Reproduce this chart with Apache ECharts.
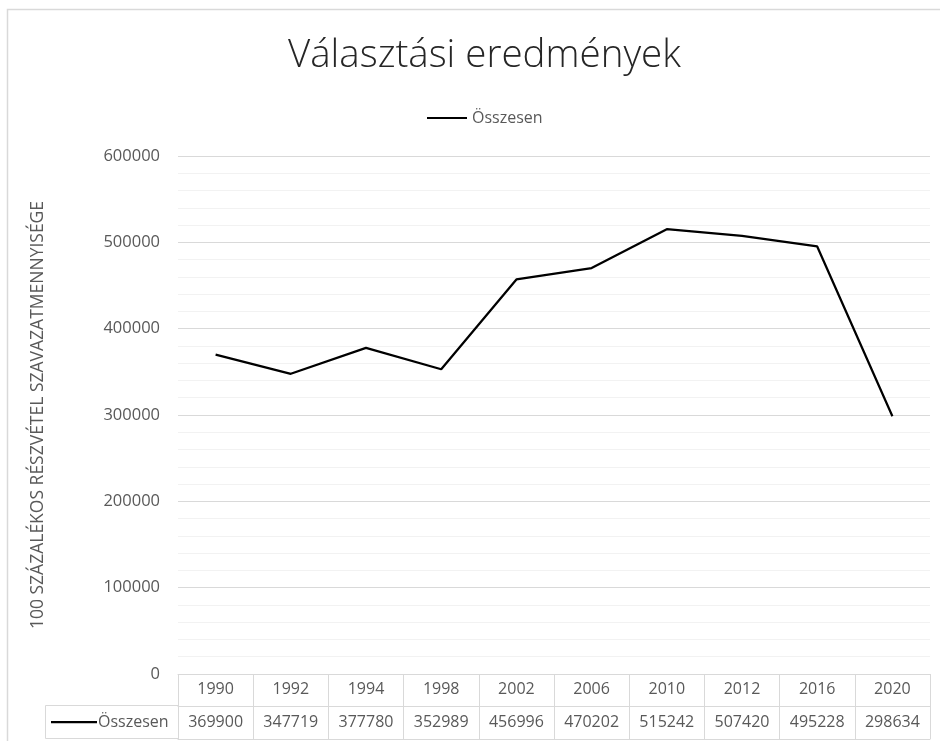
<!DOCTYPE html>
<html>
<head>
<meta charset="utf-8">
<script src="https://cdn.jsdelivr.net/npm/echarts@6/dist/echarts.min.js"></script>
<style>
  html, body { margin: 0; padding: 0; background: #fff; }
  #chart { width: 940px; height: 741px; }
</style>
</head>
<body>
<div id="chart"></div>
<script>
  // adatok
  const years = ["1990", "1992", "1994", "1998", "2002", "2006", "2010", "2012", "2016", "2020"];
  const totals = [369900, 347719, 377780, 352989, 456996, 470202, 515242, 507420, 495228, 298634];
  const seriesName = "Összesen";
  const yTicks = [0, 100000, 200000, 300000, 400000, 500000, 600000];

  const txt = "#595959";
  const border = "#d9d9d9";
  const font = "Open Sans";

  const chart = echarts.init(document.getElementById("chart"), null, { renderer: "canvas" });

  const option = {
    backgroundColor: "#fff",
    animation: false,
    title: {
      text: "Választási eredmények",
      left: 283,
      top: 32,
      textStyle: { fontFamily: font, fontWeight: 300, fontSize: 38.5, color: "#262626" },
    },
    legend: {
      top: 105,
      left: 422,
      itemWidth: 40,
      itemHeight: 2,
      textStyle: { fontFamily: font, fontSize: 16, color: txt },
      data: [{ name: seriesName, icon: "rect", itemStyle: { color: "#000" } }],
    },
    grid: { left: 178, right: 10, top: 156, bottom: 67, containLabel: false },
    xAxis: [
      {
        // fejléc sor: évek
        type: "category",
        data: years,
        boundaryGap: true,
        axisLine: { lineStyle: { color: border, width: 1 } },
        axisTick: { show: true, length: 32, lineStyle: { color: border } },
        axisLabel: { fontFamily: font, fontSize: 16, color: txt, margin: 7 },
        splitLine: { show: false },
      },
      {
        // érték sor
        type: "category",
        data: years,
        position: "bottom",
        offset: 32,
        boundaryGap: true,
        axisLine: { lineStyle: { color: border, width: 1 } },
        axisTick: { show: true, length: 33, lineStyle: { color: border } },
        axisLabel: {
          fontFamily: font, fontSize: 16, color: txt, margin: 8,
          formatter: (v, i) => String(totals[i]),
        },
      },
      {
        // tábla alja
        type: "category",
        data: years,
        position: "bottom",
        offset: 65,
        axisLine: { lineStyle: { color: border, width: 1 } },
        axisTick: { show: false },
        axisLabel: { show: false },
      },
    ],
    yAxis: {
      type: "value",
      min: yTicks[0],
      max: yTicks[yTicks.length - 1],
      interval: 100000,
      name: "100 SZÁZALÉKOS RÉSZVÉTEL SZAVAZATMENNYISÉGE",
      nameLocation: "middle",
      nameGap: 131,
      nameRotate: 90,
      nameTextStyle: { fontFamily: font, fontSize: 17.5, color: txt },
      axisLine: { show: false },
      axisTick: { show: false },
      axisLabel: {
        fontFamily: font, fontSize: 16.5, color: txt, margin: 18,
        formatter: (v) => String(v),
      },
      splitLine: { lineStyle: { color: border, width: 1 } },
      minorTick: { show: false, splitNumber: 5 },
      minorSplitLine: { show: true, lineStyle: { color: "#f2f2f2", width: 1 } },
    },
    series: [
      {
        name: seriesName,
        type: "line",
        data: totals,
        symbol: "none",
        smooth: false,
        lineStyle: { color: "#000", width: 2.25 },
        itemStyle: { color: "#000" },
      },
    ],
    graphic: [
      // külső keret
      {
        type: "rect",
        shape: { x: 7.5, y: 9.5, width: 960, height: 760 },
        style: { fill: "none", stroke: border, lineWidth: 1.5 },
        silent: true,
      },
      // jelmagyarázat cella a tábla bal oldalán
      {
        type: "polyline",
        shape: { points: [[178.5, 705.5], [45.5, 705.5], [45.5, 738.5], [178.5, 738.5]] },
        style: { fill: "none", stroke: border, lineWidth: 1 },
        silent: true,
      },
      {
        type: "line",
        shape: { x1: 51, y1: 722, x2: 97, y2: 722 },
        style: { stroke: "#000", lineWidth: 2.25 },
        silent: true,
      },
      {
        type: "text",
        x: 98,
        y: 722,
        style: {
          text: seriesName, fontFamily: font, fontSize: 16, fill: txt,
          textVerticalAlign: "middle",
        },
        silent: true,
      },
    ],
  };

  chart.setOption(option);
</script>
</body>
</html>
